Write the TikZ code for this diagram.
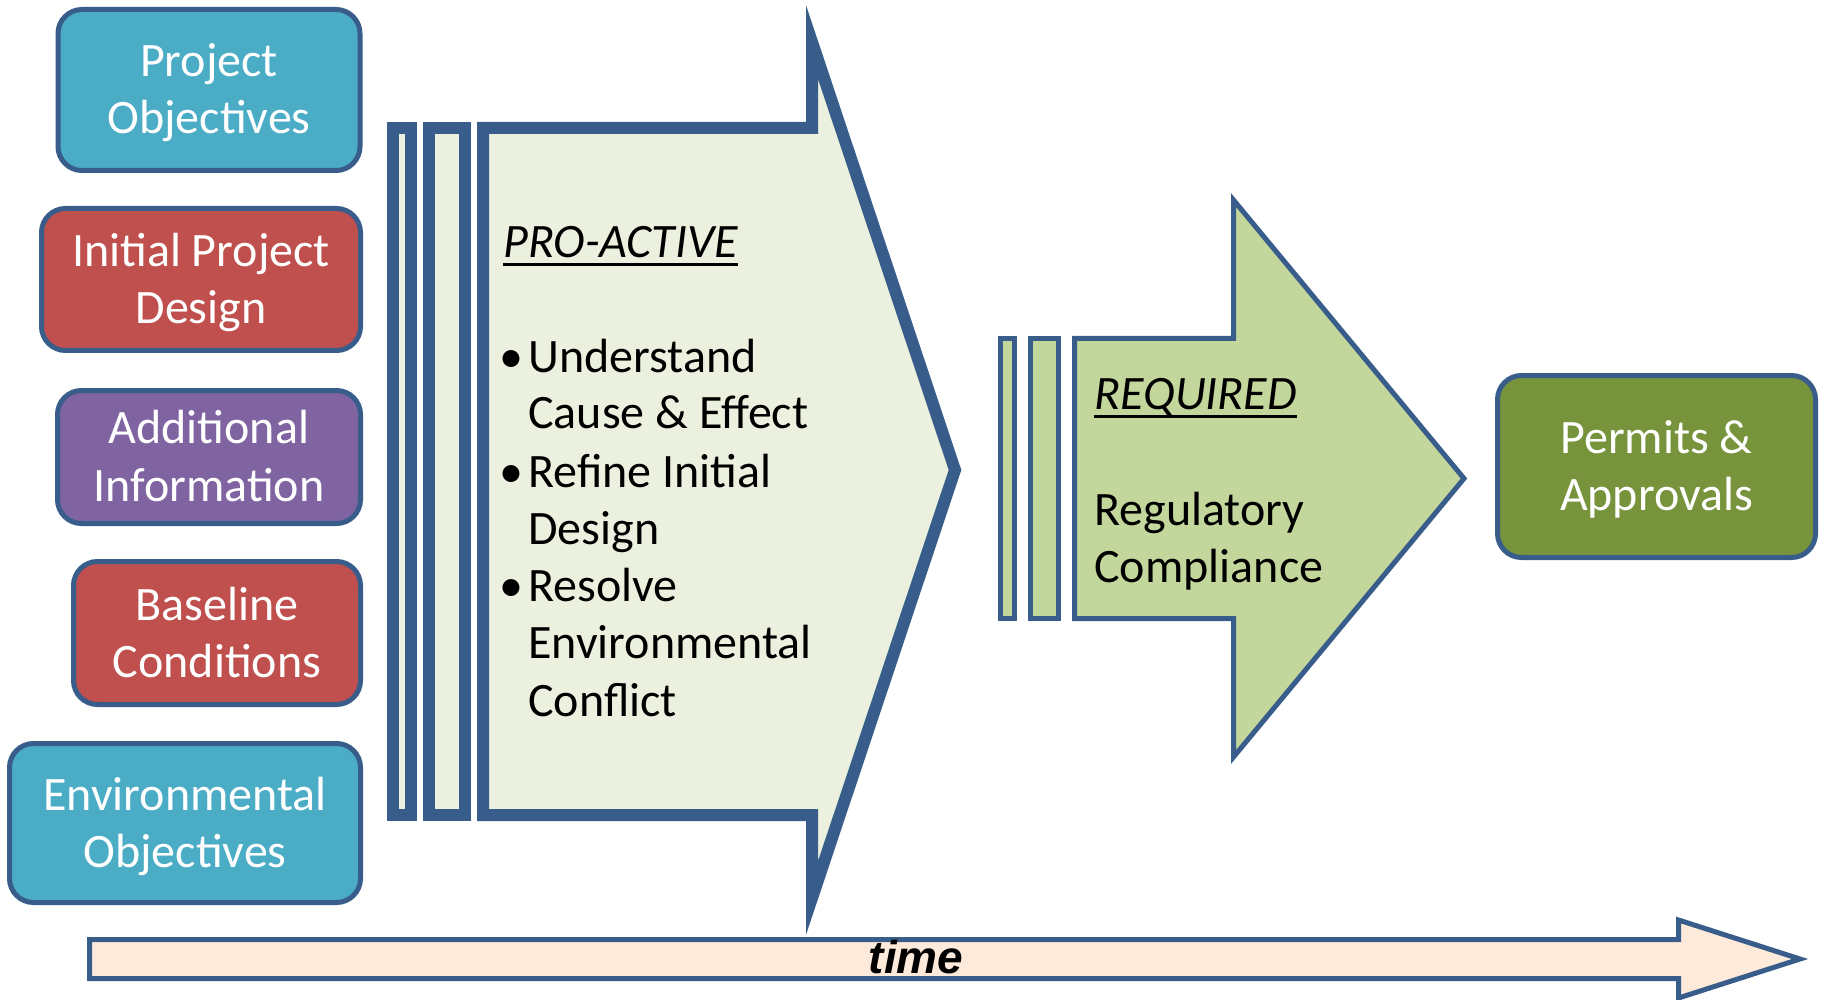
\documentclass[tikz,border=0pt]{standalone}
\usepackage{fontspec}
\setmainfont{Carlito}
\newfontfamily\timefont{Liberation Sans}
\definecolor{outline}{HTML}{385D8A}
\definecolor{aqua}{HTML}{4BACC6}
\definecolor{brick}{HTML}{C0504D}
\definecolor{plum}{HTML}{8064A2}
\definecolor{permitgreen}{HTML}{77933C}
\definecolor{reqfill}{HTML}{C3D69B}
\definecolor{profill}{HTML}{EBF1DE}
\definecolor{timefill}{HTML}{FDEADA}
\newcommand\bxstrut{\rule[-6pt]{0pt}{27.5pt}}
\newcommand\blt{\makebox[12.5pt][l]{\hspace{-2pt}\textbullet}}

\begin{document}
\begin{tikzpicture}[x=0.5pt,y=-0.5pt,
  inbox/.style={draw=outline,line width=2.5pt,rounded corners=12pt,text=white,
    align=center,inner sep=0pt,font=\fontsize{24}{28.5}\selectfont},
  body/.style={anchor=base west,inner sep=0pt,font=\fontsize{24}{28.5}\selectfont},
  thick arrow/.style={draw=outline,line width=6pt,fill=profill},
  thin arrow/.style={draw=outline,line width=2.5pt}]
\useasboundingbox (0,0) rectangle (1821,1000);

\node[inbox,fill=aqua,minimum width=151pt,minimum height=80.5pt] (projobj) at (209,90) {\bxstrut Project\\Objectives\bxstrut};
\node[inbox,fill=brick,minimum width=159.5pt,minimum height=71pt] (initdes) at (201,279.5) {\bxstrut Initial Project\\Design\bxstrut};
\node[inbox,fill=plum,minimum width=151.5pt,minimum height=66.5pt] (addinfo) at (209,457) {\bxstrut Additional\\Information\bxstrut};
\node[inbox,fill=brick,minimum width=143.5pt,minimum height=71.5pt] (basecond) at (217,633) {\bxstrut Baseline\\Conditions\bxstrut};
\node[inbox,fill=aqua,minimum width=175.5pt,minimum height=79.5pt] (envobj) at (185,823) {\bxstrut Environmental\\Objectives\bxstrut};

\draw[thick arrow] (393,128) rectangle (411,815);
\draw[thick arrow] (429,128) rectangle (465,815);
\draw[thick arrow] (483,128) -- (812,128) -- (812,42) -- (955,470) -- (812,898) -- (812,815) -- (483,815) -- cycle;

\node[body] (pa) at (503,258) {\itshape PRO-ACTIVE};
\draw[line width=1.5pt] ([yshift=-3.5pt]pa.base west) -- ([yshift=-3.5pt]pa.base east);
\node[body] (pb1) at (503,372) {\blt Understand};
\node[body] (pb2) at (528,429) {Cause \& Effect};
\node[body] (pb3) at (503,487) {\blt Refine Initial};
\node[body] (pb4) at (528,544) {Design};
\node[body] (pb5) at (503,601) {\blt Resolve};
\node[body] (pb6) at (528,658) {Environmental};
\node[body] (pb7) at (528,716) {Conflict};

\draw[thin arrow,fill=reqfill] (1000.5,338.5) rectangle (1014.5,618.5);
\draw[thin arrow,fill=reqfill] (1030.5,338.5) rectangle (1058.5,618.5);
\draw[thin arrow,fill=reqfill] (1074.5,338.5) -- (1233.5,338.5) -- (1233.5,200) -- (1464,478.5) -- (1233.5,757) -- (1233.5,618.5) -- (1074.5,618.5) -- cycle;

\node[body] (rq) at (1094,409) {\itshape REQUIRED};
\draw[line width=1.5pt] ([yshift=-3.5pt]rq.base west) -- ([yshift=-3.5pt]rq.base east);
\node[body] (rq1) at (1094,525) {Regulatory};
\node[body] (rq2) at (1094,582) {Compliance};

\node[inbox,fill=permitgreen,minimum width=159pt,minimum height=91pt] (permits) at (1656.5,466.5) {\bxstrut Permits \&\\Approvals\bxstrut};

\draw[thin arrow,fill=timefill] (89.5,939.5) -- (1678.5,939.5) -- (1678.5,920) -- (1800,959) -- (1678.5,998) -- (1678.5,978.5) -- (89.5,978.5) -- cycle;
\node[anchor=base,inner sep=0pt,font=\timefont\fontsize{23}{23}\selectfont\bfseries\itshape] (time) at (916,973) {time};
\end{tikzpicture}
\end{document}
